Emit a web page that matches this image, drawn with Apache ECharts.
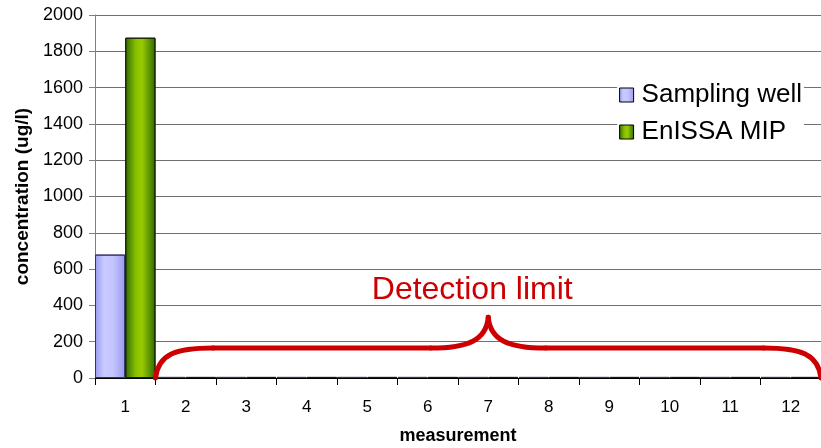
<!DOCTYPE html>
<html><head><meta charset="utf-8">
<script src="https://cdn.jsdelivr.net/npm/echarts@6/dist/echarts.min.js"></script>
<style>html,body{margin:0;padding:0;background:#fff}#c{width:821px;height:448px}</style>
</head><body><div id="c"></div>
<script>
const categories = ['1','2','3','4','5','6','7','8','9','10','11','12'];
const samplingWell = [680,6,6,6,6,6,6,6,6,6,6,6];
const enissaMip = [1875,6,6,6,6,6,6,6,6,6,6,6];
const yTicks = {min:0, max:2000, interval:200};
const braceLevel = 165;   // horizontal part of the brace (value units)
const bracePeak = 335;    // brace tip (value units)
const braceLabel = 'Detection limit';
const labelLevel = 485;

const F = '"Liberation Sans", Arial, sans-serif';
const chart = echarts.init(document.getElementById('c'), null, {renderer:'canvas'});
const blueGrad = new echarts.graphic.LinearGradient(0,0,1,0,[
  {offset:0,color:'#9a9af0'},{offset:0.3,color:'#cacaff'},{offset:0.6,color:'#c4c4ff'},{offset:1,color:'#9999ee'}]);
const greenGrad = new echarts.graphic.LinearGradient(0,0,1,0,[
  {offset:0,color:'#2f6a00'},{offset:0.35,color:'#88c000'},{offset:0.55,color:'#99cc00'},{offset:1,color:'#2f6a00'}]);

chart.setOption({
  animation:false,
  backgroundColor:'#fff',
  grid:{left:95, right:0, top:15, bottom:70, containLabel:false, outerBoundsMode:'none'},
  legend:{
    right:17, top:80, orient:'vertical', itemGap:11, icon:'rect',
    backgroundColor:'#fff', padding:[2,2,2,2],
    itemWidth:14, itemHeight:14, itemStyle:{borderColor:'#000',borderWidth:1},
    textStyle:{fontFamily:F, fontSize:26, color:'#000', padding:[0,0,0,3]},
    data:['Sampling well','EnISSA MIP']
  },
  xAxis:{
    type:'category', data:categories, boundaryGap:true,
    name:'measurement', nameLocation:'middle', nameGap:49,
    nameTextStyle:{fontFamily:F, fontSize:18, fontWeight:'bold', color:'#000'},
    axisLine:{lineStyle:{color:'#000',width:1}},
    axisTick:{show:true, alignWithLabel:false, length:7, lineStyle:{color:'#000'}},
    axisLabel:{fontFamily:F, fontSize:17, color:'#000', margin:21},
    splitLine:{show:false}
  },
  yAxis:{
    type:'value', min:yTicks.min, max:yTicks.max, interval:yTicks.interval,
    name:'concentration (ug/l)', nameLocation:'middle', nameGap:63, nameRotate:90,
    nameTextStyle:{fontFamily:F, fontSize:19, fontWeight:'bold', color:'#000'},
    axisLine:{show:true, lineStyle:{color:'#808080',width:1}},
    axisTick:{show:true, length:6, lineStyle:{color:'#808080'}},
    axisLabel:{fontFamily:F, fontSize:18, color:'#000', margin:12, formatter:v=>String(v)},
    splitLine:{show:true, lineStyle:{color:'#707070',width:1}}
  },
  series:[
    {name:'Sampling well', type:'bar', data:samplingWell, barGap:'0%', barCategoryGap:'0%',
     itemStyle:{color:blueGrad, borderColor:'#33336a', borderWidth:1}},
    {name:'EnISSA MIP', type:'bar', data:enissaMip, barGap:'0%', barCategoryGap:'0%',
     itemStyle:{color:greenGrad, borderColor:'#142000', borderWidth:1}}
  ]
});

function drawBrace(){
  const c0 = chart.convertToPixel({xAxisIndex:0}, 0);
  const c1 = chart.convertToPixel({xAxisIndex:0}, 1);
  const w = c1 - c0;
  const x0 = c0 + w/2;
  const x1 = chart.convertToPixel({xAxisIndex:0}, categories.length-1) + w/2;
  const xp = chart.convertToPixel({xAxisIndex:0}, 6);
  const y0 = chart.convertToPixel({yAxisIndex:0}, 0);
  const yh = chart.convertToPixel({yAxisIndex:0}, braceLevel);
  const yp = chart.convertToPixel({yAxisIndex:0}, bracePeak);
  const yl = chart.convertToPixel({yAxisIndex:0}, labelLevel);
  const d = w*0.95;
  const st = {fill:null, stroke:'#cc0000', lineWidth:5, lineCap:'round'};
  const bz = (a,b,c,e,f,g,h,i) => ({type:'bezierCurve', shape:{x1:a,y1:b,cpx1:c,cpy1:e,cpx2:f,cpy2:g,x2:h,y2:i}, style:st, z:100});
  const ln = (a,b,c,e) => ({type:'line', shape:{x1:a,y1:b,x2:c,y2:e}, style:st, z:100});
  chart.setOption({graphic:[
    bz(x0,y0, x0+3,y0-24, x0+d*0.35,yh, x0+d,yh),
    ln(x0+d,yh, xp-d,yh),
    bz(xp-d,yh, xp-d*0.35,yh, xp-2,yh-8, xp,yp),
    bz(xp,yp, xp+2,yh-8, xp+d*0.35,yh, xp+d,yh),
    ln(xp+d,yh, x1-d,yh),
    bz(x1-d,yh, x1-d*0.35,yh, x1-3,y0-24, x1,y0),
    {type:'text', x:xp-16, y:yl, style:{text:braceLabel, fill:'#cc0000', font:'32px '+F, textAlign:'center', textVerticalAlign:'middle'}, z:100}
  ]});
}
drawBrace();
</script></body></html>
